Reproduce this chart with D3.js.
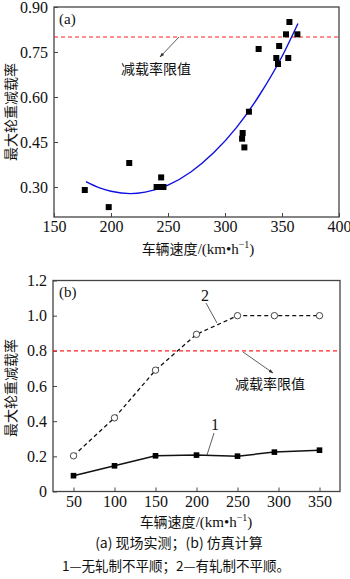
<!DOCTYPE html>
<html>
<head>
<meta charset="utf-8">
<script src="https://cdn.jsdelivr.net/npm/d3@7"></script>
<style>
  body { margin: 0; background: #fff; }
  svg { display: block; }
  .num { font-family: "Liberation Serif", "DejaVu Serif", serif; }
  .cjk { font-family: "Noto Sans CJK SC", sans-serif; }
</style>
</head>
<body>
<div id="chart"></div>
<script>
// (a) field measurement
const fieldSpeed = [177, 198, 216, 240, 243, 246, 244, 315, 315.5, 317, 321, 329.5, 345, 346.5, 347.5, 353.5, 355.5, 356.5, 363.5];
const fieldRate  = [0.29, 0.233, 0.38, 0.30, 0.30, 0.30, 0.332, 0.461, 0.48, 0.432, 0.551, 0.76, 0.73, 0.71, 0.77, 0.809, 0.73, 0.85, 0.809];
// fitted curve
const fitSpeed = [178, 190, 200, 217, 230, 250, 270, 290, 310, 330, 350, 364];
const fitRate  = [0.318, 0.297, 0.286, 0.278, 0.283, 0.306, 0.350, 0.414, 0.498, 0.605, 0.735, 0.845];
const ticksA_x = [150, 200, 250, 300, 350, 400];
const ticksA_y = [0.30, 0.45, 0.60, 0.75, 0.90];

// (b) simulation
const simSpeed = [50, 100, 150, 200, 250, 295, 350];
const simRate1 = [0.09, 0.146, 0.203, 0.207, 0.201, 0.224, 0.235];
const simRate2 = [0.203, 0.419, 0.69, 0.894, 1.0, 1.0, 1.0];
const ticksB_x = [50, 100, 150, 200, 250, 300, 350];
const ticksB_y = [0, 0.2, 0.4, 0.6, 0.8, 1.0, 1.2];

const limit = 0.8;
const yLabel = '最大轮重减载率';
const limitLabel = '减载率限值';

const svg = d3.select('#chart').append('svg')
    .attr('width', 350).attr('height', 579);

svg.append('defs').append('marker')
    .attr('id', 'arr').attr('viewBox', '0 0 10 10')
    .attr('refX', 9).attr('refY', 5)
    .attr('markerWidth', 6).attr('markerHeight', 6)
    .attr('orient', 'auto')
  .append('path').attr('d', 'M0,1.5L10,5L0,8.5Z').attr('fill', '#333');

function frame(g, x, y, xt, yt, yfmt){
    let [x0, x1] = x.range(), [y1, y0] = y.range();
    g.append('rect')
        .attr('x', x0).attr('y', y0)
        .attr('width', x1 - x0).attr('height', y1 - y0)
        .attr('fill', 'none').attr('stroke', '#444').attr('stroke-width', 1.3);
    g.append('g').attr('transform', `translate(0,${y1})`)
        .call(d3.axisBottom(x).tickValues(xt).tickSize(-4).tickPadding(4).tickFormat(d3.format('d')))
        .call(a => { a.select('.domain').remove(); a.selectAll('line').attr('stroke', '#444'); });
    g.append('g').attr('transform', `translate(${x0},0)`)
        .call(d3.axisLeft(y).tickValues(yt).tickSize(-4).tickPadding(6).tickFormat(yfmt))
        .call(a => { a.select('.domain').remove(); a.selectAll('line').attr('stroke', '#444'); });
    g.selectAll('.tick text').attr('class', 'num').attr('font-size', 16).attr('fill', '#111');
}

function labels(g, cx, xlabY, cy){
    let t = g.append('text').attr('class', 'cjk').attr('x', cx).attr('y', xlabY)
        .attr('text-anchor', 'middle').attr('font-size', 14).attr('fill', '#111');
    t.append('tspan').text('车辆速度');
    t.append('tspan').attr('class', 'num').attr('font-size', 15).text('/(km•h');
    t.append('tspan').attr('class', 'num').attr('font-size', 10).attr('dy', -6).text('−1');
    t.append('tspan').attr('class', 'num').attr('font-size', 15).attr('dy', 6).text(')');
    g.append('text').attr('class', 'cjk')
        .attr('transform', `translate(16,${cy}) rotate(-90)`)
        .attr('text-anchor', 'middle').attr('font-size', 14).attr('fill', '#111')
        .text(yLabel);
}

// ---- chart (a)
const gA = svg.append('g');
const xA = d3.scaleLinear().domain([150, 400]).range([54, 339]);
const yA = d3.scaleLinear().domain([0.2, 0.9]).range([217, 7]);
frame(gA, xA, yA, ticksA_x, ticksA_y, d3.format('.2f'));

gA.append('line')
    .attr('x1', xA(150)).attr('x2', xA(400)).attr('y1', yA(limit)).attr('y2', yA(limit))
    .attr('stroke', '#ff2020').attr('stroke-width', 1.2).attr('stroke-dasharray', '4,3');

gA.append('path')
    .attr('d', d3.line().x(d => xA(d[0])).y(d => yA(d[1])).curve(d3.curveMonotoneX)(d3.zip(fitSpeed, fitRate)))
    .attr('fill', 'none').attr('stroke', '#1010e0').attr('stroke-width', 1.4);

gA.selectAll('rect.pt').data(d3.zip(fieldSpeed, fieldRate)).join('rect')
    .attr('class', 'pt')
    .attr('x', d => xA(d[0]) - 3).attr('y', d => yA(d[1]) - 3)
    .attr('width', 6).attr('height', 6).attr('fill', '#000');

gA.append('line')
    .attr('x1', 179).attr('y1', 37).attr('x2', 160).attr('y2', 57)
    .attr('stroke', '#333').attr('stroke-width', 0.8).attr('marker-end', 'url(#arr)');
gA.append('text').attr('class', 'cjk').attr('x', 156).attr('y', 74)
    .attr('text-anchor', 'middle').attr('font-size', 14).attr('fill', '#111').text(limitLabel);
gA.append('text').attr('class', 'num').attr('x', 59).attr('y', 24)
    .attr('font-size', 15).attr('fill', '#111').text('(a)');
labels(gA, 198, 254, 112);

// ---- chart (b)
const gB = svg.append('g');
const xB = d3.scaleLinear().domain([25, 375]).range([53, 340]);
const yB = d3.scaleLinear().domain([0, 1.2]).range([491.5, 280.5]);
frame(gB, xB, yB, ticksB_x, ticksB_y, d => d === 0 ? '0' : d3.format('.1f')(d));

gB.append('line')
    .attr('x1', xB(25)).attr('x2', xB(375)).attr('y1', yB(limit)).attr('y2', yB(limit))
    .attr('stroke', '#ff2020').attr('stroke-width', 1.2).attr('stroke-dasharray', '4,3');

const lineB = d3.line().x(d => xB(d[0])).y(d => yB(d[1]));
gB.append('path').attr('d', lineB(d3.zip(simSpeed, simRate2)))
    .attr('fill', 'none').attr('stroke', '#111').attr('stroke-width', 1.3).attr('stroke-dasharray', '4,3');
gB.append('path').attr('d', lineB(d3.zip(simSpeed, simRate1)))
    .attr('fill', 'none').attr('stroke', '#111').attr('stroke-width', 1.5);

gB.selectAll('circle.pt').data(d3.zip(simSpeed, simRate2)).join('circle')
    .attr('class', 'pt')
    .attr('cx', d => xB(d[0])).attr('cy', d => yB(d[1])).attr('r', 3.2)
    .attr('fill', '#fff').attr('stroke', '#333').attr('stroke-width', 0.9);
gB.selectAll('rect.pt').data(d3.zip(simSpeed, simRate1)).join('rect')
    .attr('class', 'pt')
    .attr('x', d => xB(d[0]) - 2.8).attr('y', d => yB(d[1]) - 2.8)
    .attr('width', 5.6).attr('height', 5.6).attr('fill', '#000');

gB.append('line')
    .attr('x1', 243).attr('y1', 352).attr('x2', 273).attr('y2', 373)
    .attr('stroke', '#333').attr('stroke-width', 0.8).attr('marker-end', 'url(#arr)');
gB.append('text').attr('class', 'cjk').attr('x', 270).attr('y', 389)
    .attr('text-anchor', 'middle').attr('font-size', 14).attr('fill', '#111').text(limitLabel);

gB.append('line').attr('x1', 206).attr('y1', 303).attr('x2', 217).attr('y2', 323)
    .attr('stroke', '#333').attr('stroke-width', 0.8);
gB.append('text').attr('class', 'num').attr('x', 205).attr('y', 301)
    .attr('text-anchor', 'middle').attr('font-size', 16).attr('fill', '#111').text('2');
gB.append('line').attr('x1', 214).attr('y1', 433).attr('x2', 207).attr('y2', 455)
    .attr('stroke', '#333').attr('stroke-width', 0.8);
gB.append('text').attr('class', 'num').attr('x', 215).attr('y', 430)
    .attr('text-anchor', 'middle').attr('font-size', 16).attr('fill', '#111').text('1');
gB.append('text').attr('class', 'num').attr('x', 59).attr('y', 297)
    .attr('font-size', 15).attr('fill', '#111').text('(b)');
labels(gB, 196, 527, 388);

// captions
svg.append('text').attr('class', 'cjk').attr('x', 179).attr('y', 548)
    .attr('text-anchor', 'middle').attr('font-size', 14).attr('fill', '#111')
    .text('(a) 现场实测；(b) 仿真计算');
svg.append('text').attr('class', 'cjk').attr('x', 176).attr('y', 571)
    .attr('text-anchor', 'middle').attr('font-size', 13.5).attr('fill', '#111')
    .text('1—无轧制不平顺；2—有轧制不平顺。');
</script>
</body>
</html>
